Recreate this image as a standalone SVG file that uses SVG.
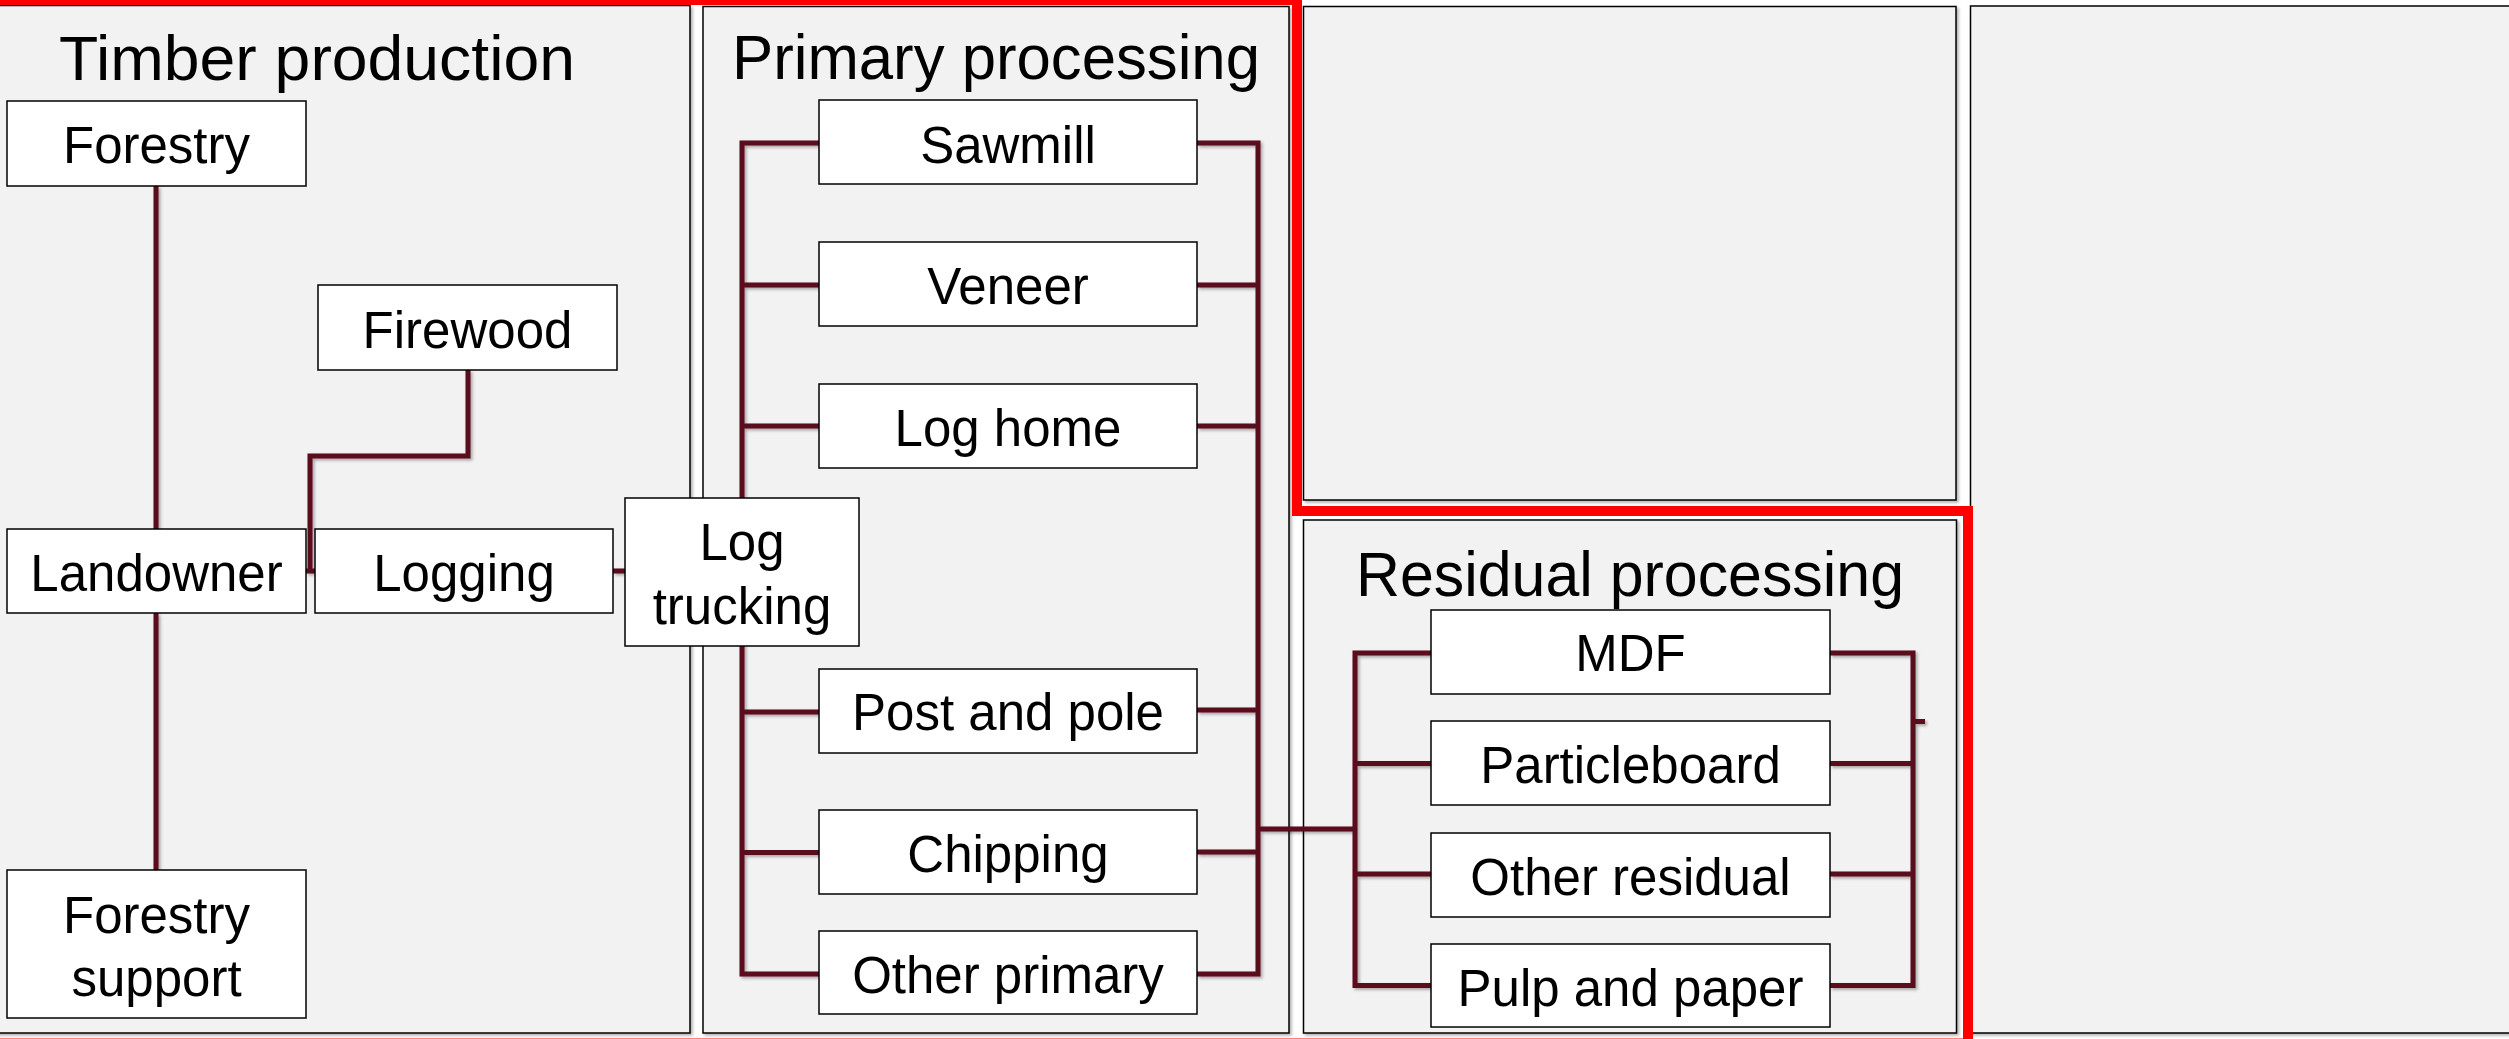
<svg xmlns="http://www.w3.org/2000/svg" width="2509" height="1039" viewBox="0 0 2509 1039">
  <defs>
    <filter id="shadow" x="-5%" y="-5%" width="110%" height="110%">
      <feDropShadow dx="2" dy="2" stdDeviation="1.5" flood-color="#000" flood-opacity="0.3"/>
    </filter>
    <style>
      .panel { fill: #F2F2F2; stroke: #000; stroke-width: 1.5; }
      .box { fill: #FFFFFF; stroke: #000; stroke-width: 1.5; }
      .conn { fill: none; stroke: #5A0A1C; stroke-width: 5; stroke-linejoin: miter; }
      .title { font-family: "Liberation Sans", Arial, sans-serif; font-size: 63px; fill: #000; text-anchor: middle; }
      .label { font-family: "Liberation Sans", Arial, sans-serif; font-size: 51px; fill: #000; text-anchor: middle; }
      .outline { fill: none; stroke: #FF0000; stroke-width: 10; }
    </style>
  </defs>
  <rect x="0" y="0" width="2509" height="1039" fill="#FFFFFF"/>

  <g id="panels">
    <g id="panel-timber">
      <rect class="panel" x="-10" y="5.5" width="700" height="1027.5" filter="url(#shadow)"/>
      <text class="title" x="317" y="80" textLength="516" lengthAdjust="spacingAndGlyphs">Timber production</text>
    </g>
    <g id="panel-primary">
      <rect class="panel" x="703" y="6.5" width="586" height="1026.5" filter="url(#shadow)"/>
      <text class="title" x="996" y="79" textLength="528" lengthAdjust="spacingAndGlyphs">Primary processing</text>
    </g>
    <g id="panel-empty-top">
      <rect class="panel" x="1303.5" y="6.5" width="652.5" height="493.5" filter="url(#shadow)"/>
    </g>
    <g id="panel-residual">
      <rect class="panel" x="1303.5" y="520" width="653" height="513" filter="url(#shadow)"/>
      <text class="title" x="1630" y="596" textLength="548" lengthAdjust="spacingAndGlyphs">Residual processing</text>
    </g>
    <g id="panel-right">
      <rect class="panel" x="1970.5" y="6" width="560" height="1027" filter="url(#shadow)"/>
    </g>
  </g>

  <g id="connectors" filter="url(#shadow)">
    <path class="conn" d="M156,186 V529"/>
    <path class="conn" d="M156,613 V870"/>
    <path class="conn" d="M468,370 V456 H310 V571"/>
    <path class="conn" d="M306,571 H315"/>
    <path class="conn" d="M613,571 H625"/>
    <path class="conn" d="M819,143 H742 V974 H819"/>
    <path class="conn" d="M742,285 H819"/>
    <path class="conn" d="M742,426 H819"/>
    <path class="conn" d="M742,712 H819"/>
    <path class="conn" d="M742,852.5 H819"/>
    <path class="conn" d="M1197,143 H1258 V974 H1197"/>
    <path class="conn" d="M1197,285 H1258"/>
    <path class="conn" d="M1197,426 H1258"/>
    <path class="conn" d="M1197,710 H1258"/>
    <path class="conn" d="M1197,852 H1258"/>
    <path class="conn" d="M1258,829 H1355"/>
    <path class="conn" d="M1431,653 H1355 V985.5 H1431"/>
    <path class="conn" d="M1355,763.5 H1431"/>
    <path class="conn" d="M1355,874 H1431"/>
    <path class="conn" d="M1830,653 H1913 V985.5 H1830"/>
    <path class="conn" d="M1830,763.5 H1913"/>
    <path class="conn" d="M1830,874 H1913"/>
    <path class="conn" d="M1913,721.5 H1925"/>
  </g>

  <g id="node-forestry">
    <rect class="box" x="7" y="101" width="299" height="85"/>
    <text class="label" x="156.5" y="163">Forestry</text>
  </g>
  <g id="node-firewood">
    <rect class="box" x="318" y="285" width="299" height="85"/>
    <text class="label" x="467.5" y="347.5">Firewood</text>
  </g>
  <g id="node-landowner">
    <rect class="box" x="7" y="529" width="299" height="84"/>
    <text class="label" x="156.5" y="591">Landowner</text>
  </g>
  <g id="node-logging">
    <rect class="box" x="315" y="529" width="298" height="84"/>
    <text class="label" x="464" y="591">Logging</text>
  </g>
  <g id="node-log-trucking">
    <rect class="box" x="625" y="498" width="234" height="148"/>
    <text class="label" x="742" y="560">Log</text>
    <text class="label" x="742" y="624">trucking</text>
  </g>
  <g id="node-forestry-support">
    <rect class="box" x="7" y="870" width="299" height="148"/>
    <text class="label" x="156.5" y="933">Forestry</text>
    <text class="label" x="156.5" y="996">support</text>
  </g>

  <g id="node-sawmill">
    <rect class="box" x="819" y="100" width="378" height="84"/>
    <text class="label" x="1008" y="162.5">Sawmill</text>
  </g>
  <g id="node-veneer">
    <rect class="box" x="819" y="242" width="378" height="84"/>
    <text class="label" x="1008" y="304">Veneer</text>
  </g>
  <g id="node-log-home">
    <rect class="box" x="819" y="384" width="378" height="84"/>
    <text class="label" x="1008" y="446">Log home</text>
  </g>
  <g id="node-post-and-pole">
    <rect class="box" x="819" y="669" width="378" height="84"/>
    <text class="label" x="1008" y="730">Post and pole</text>
  </g>
  <g id="node-chipping">
    <rect class="box" x="819" y="810" width="378" height="84"/>
    <text class="label" x="1008" y="872">Chipping</text>
  </g>
  <g id="node-other-primary">
    <rect class="box" x="819" y="931" width="378" height="83"/>
    <text class="label" x="1008" y="993">Other primary</text>
  </g>

  <g id="node-mdf">
    <rect class="box" x="1431" y="610" width="399" height="84"/>
    <text class="label" x="1630.5" y="671">MDF</text>
  </g>
  <g id="node-particleboard">
    <rect class="box" x="1431" y="721" width="399" height="84"/>
    <text class="label" x="1630.5" y="783">Particleboard</text>
  </g>
  <g id="node-other-residual">
    <rect class="box" x="1431" y="833" width="399" height="84"/>
    <text class="label" x="1630.5" y="895">Other residual</text>
  </g>
  <g id="node-pulp-and-paper">
    <rect class="box" x="1431" y="944" width="399" height="83"/>
    <text class="label" x="1630.5" y="1006">Pulp and paper</text>
  </g>

  <g id="highlight">
    <path class="outline" d="M-10,0 H1297 V511 H1968 V1043.5 H-10 Z"/>
  </g>
</svg>
